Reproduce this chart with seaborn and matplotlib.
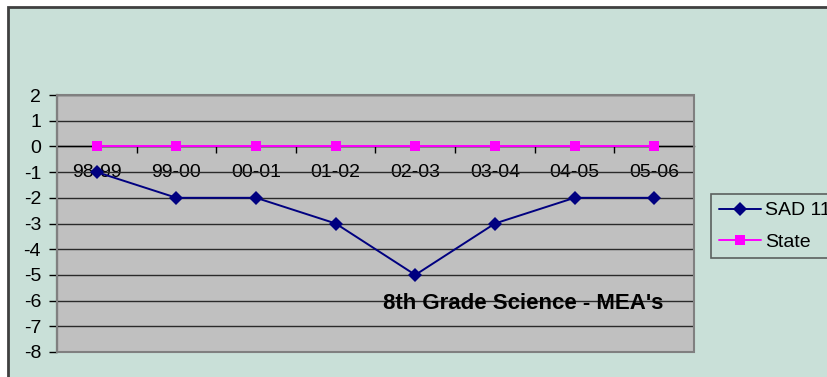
import matplotlib
matplotlib.use("Agg")
import matplotlib.pyplot as plt
from matplotlib.patches import Rectangle
import seaborn as sns
import pandas as pd

# School years and score differences for each series
years = ["98-99", "99-00", "00-01", "01-02", "02-03", "03-04", "04-05", "05-06"]
sad11 = [-1, -2, -2, -3, -5, -3, -2, -2]
state = [0, 0, 0, 0, 0, 0, 0, 0]
y_ticks = [2, 1, 0, -1, -2, -3, -4, -5, -6, -7, -8]
title_text = "8th Grade Science - MEA's"

df = pd.DataFrame({
    "Year": years * 2,
    "Value": sad11 + state,
    "Series": ["SAD 11"] * len(years) + ["State"] * len(years),
})

sns.set_theme(style="white")
plt.rcParams["font.family"] = ["Liberation Sans", "DejaVu Sans"]
plt.rcParams["axes.unicode_minus"] = False

W, H, DPI = 828, 377, 100
bg = "#C9E0D8"
fig = plt.figure(figsize=(W / DPI, H / DPI), dpi=DPI, facecolor="white")

# Chart area with a dark frame
fig.patches.append(Rectangle((8 / W, -0.01), 1.02, 1 - 7 / H + 0.01, transform=fig.transFigure,
                             facecolor=bg, edgecolor="#404040", linewidth=2, zorder=-5))

left, right, top, bottom = 57, 694, 95, 352
ax = fig.add_axes([left / W, 1 - bottom / H, (right - left) / W, (bottom - top) / H])
ax.set_facecolor("#C0C0C0")

sns.lineplot(data=df, x="Year", y="Value", hue="Series", style="Series",
             palette={"SAD 11": "#000080", "State": "#FF00FF"},
             markers={"SAD 11": "D", "State": "s"}, dashes=False,
             markersize=7, linewidth=1.4, markeredgewidth=0, ax=ax, zorder=3)

ax.set_xlim(-0.5, len(years) - 0.5)
ax.set_ylim(-8, 2)
ax.set_xlabel("")
ax.set_ylabel("")

# Horizontal gridlines
ax.set_yticks(y_ticks)
ax.yaxis.grid(True, color="#2a2a2a", linewidth=1)
ax.xaxis.grid(False)

for s in ["top", "right"]:
    ax.spines[s].set_visible(False)
ax.spines["left"].set_color("black")
ax.spines["left"].set_linewidth(1.5)
ax.spines["bottom"].set_position(("data", 0))
ax.spines["bottom"].set_color("black")
ax.spines["bottom"].set_linewidth(1)

# Gray border of the plot area
ax.add_patch(Rectangle((0, 0), 1, 1, transform=ax.transAxes, fill=False,
                       edgecolor="#808080", linewidth=1.5, zorder=4, clip_on=False))

# Category ticks at boundaries, labels at centres
ax.set_xticks([i + 0.5 for i in range(len(years) - 1)])
ax.set_xticklabels([])
ax.set_xticks(range(len(years)), minor=True)
ax.set_xticklabels(years, minor=True)
ax.tick_params(axis="x", which="major", direction="out", length=5, width=1, color="black", bottom=True)
ax.tick_params(axis="x", which="minor", length=0, pad=12.5, labelsize=14, labelcolor="black")
ax.tick_params(axis="y", direction="out", length=6, width=1, color="black", left=True,
               labelsize=14, labelcolor="black", pad=5.5)

ax.text(0.732, 0.19, title_text, transform=ax.transAxes, ha="center", va="center",
        fontsize=16, fontweight="bold", color="black", zorder=5)

ax.legend_.remove()
handles, labels = ax.get_legend_handles_labels()
for h in handles:
    if h.get_marker() == "s":
        h.set_markersize(6.5)
leg = fig.legend(handles, labels, loc="upper left", bbox_to_anchor=(711 / W, 1 - 194 / H),
                 frameon=True, fancybox=False, fontsize=14, handlelength=2.15,
                 handletextpad=0.25, borderpad=0.4, labelspacing=0.7, borderaxespad=0)
leg.get_frame().set_facecolor(bg)
leg.get_frame().set_edgecolor("#404040")
leg.get_frame().set_linewidth(1.2)
for t in leg.get_texts():
    t.set_color("black")

fig.savefig("out.png", dpi=DPI, facecolor="white")
